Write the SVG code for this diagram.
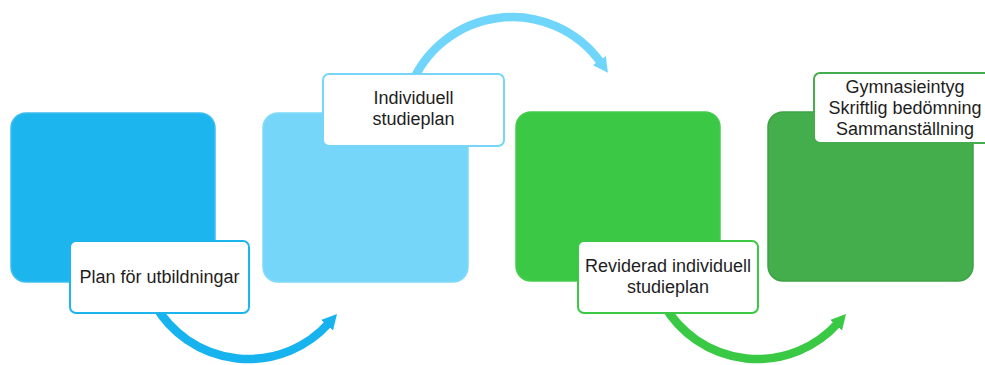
<svg xmlns="http://www.w3.org/2000/svg" width="985" height="365" viewBox="0 0 985 365">
<style>
.box{stroke-width:1.5}
.lbl{fill:#ffffff;stroke-width:2}
.t{font-family:"Liberation Sans",Arial,sans-serif;font-size:18px;fill:#1e1e1e;text-anchor:middle}
.arc{fill:none;stroke-width:8.5}
</style>
<defs>
<marker id="h1" markerUnits="userSpaceOnUse" viewBox="0 0 15 16" markerWidth="15" markerHeight="16" refX="3" refY="8" orient="auto"><path d="M0,0 L15,8 L0,16 z" fill="#17B3EF"/></marker>
<marker id="h2" markerUnits="userSpaceOnUse" viewBox="0 0 15 16" markerWidth="15" markerHeight="16" refX="3" refY="8" orient="auto"><path d="M0,0 L15,8 L0,16 z" fill="#6FD5FB"/></marker>
<marker id="h3" markerUnits="userSpaceOnUse" viewBox="0 0 15 16" markerWidth="15" markerHeight="16" refX="3" refY="8" orient="auto"><path d="M0,0 L15,8 L0,16 z" fill="#3AC944"/></marker>
</defs>
<g id="connectors">
<path class="arc" d="M155,305 A108,108 0 0,0 329,323" stroke="#17B3EF" marker-end="url(#h1)"/>
<path class="arc" d="M410,88 A109,109 0 0,1 601,63" stroke="#6FD5FB" marker-end="url(#h2)"/>
<path class="arc" d="M664,305 A108,108 0 0,0 838,323" stroke="#3AC944" marker-end="url(#h3)"/>
</g>
<g id="node1">
<rect class="box" x="11" y="113" width="204" height="169" rx="15" fill="#1DB5EE" stroke="#3FBDF0"/>
<rect class="lbl" x="70" y="241" width="179" height="72" rx="6" stroke="#1DB5EE"/>
<text class="t" x="159.5" y="283">Plan för utbildningar</text>
</g>
<g id="node2">
<rect class="box" x="263" y="113" width="205" height="169" rx="15" fill="#75D6FA" stroke="#80DAFA"/>
<rect class="lbl" x="323" y="74" width="181" height="72" rx="6" stroke="#75D6FA"/>
<text class="t" x="413.5" y="104">Individuell</text>
<text class="t" x="413.5" y="125">studieplan</text>
</g>
<g id="node3">
<rect class="box" x="516" y="112" width="204" height="169" rx="15" fill="#3BC945" stroke="#45CB4E"/>
<rect class="lbl" x="578" y="241" width="180" height="72" rx="6" stroke="#3BC945"/>
<text class="t" x="668" y="272">Reviderad individuell</text>
<text class="t" x="668" y="293">studieplan</text>
</g>
<g id="node4">
<rect class="box" x="768" y="112" width="205" height="169" rx="15" fill="#44AD4C" stroke="#3DA245"/>
<rect class="lbl" x="814" y="73" width="181" height="70" rx="6" stroke="#44AD4C"/>
<text class="t" x="905" y="93">Gymnasieintyg</text>
<text class="t" x="905" y="114">Skriftlig bedömning</text>
<text class="t" x="905" y="135">Sammanställning</text>
</g>
</svg>
